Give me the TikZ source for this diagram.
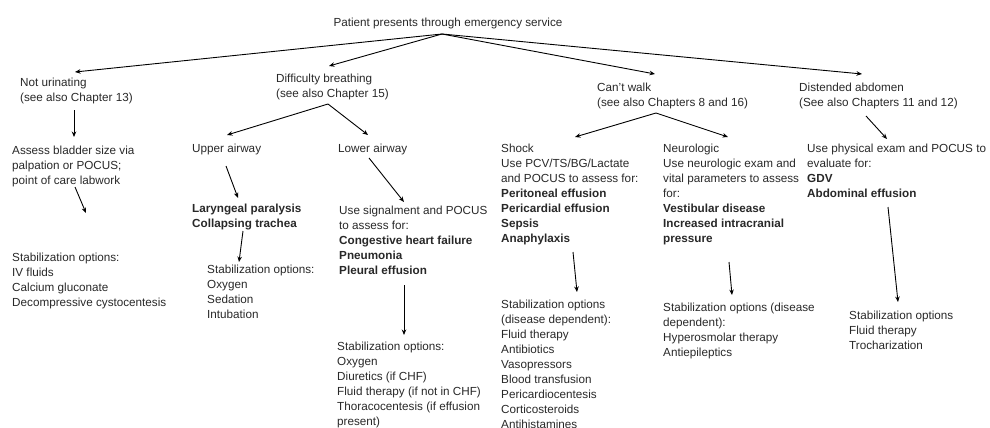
\documentclass[tikz,border=0pt]{standalone}
\usepackage{fontspec}
\setmainfont{Liberation Sans}
\usetikzlibrary{arrows.meta}
\definecolor{ink}{RGB}{40,40,40}
\begin{document}
\begin{tikzpicture}[x=1pt,y=-1pt,
  txt/.style={anchor=north west, inner sep=0pt, align=left, text=ink, font=\fontsize{11.7}{15}\selectfont},
  arr/.style={-{Stealth[length=5.5pt,width=4.5pt]}, line width=0.9pt, draw=black}]
\useasboundingbox (0,0) rectangle (990,428);

\node[txt, anchor=base] (root) at (448,27) {Patient presents through emergency service};

\node[txt] (nu) at (20,75.5) {\strut Not urinating\\(see also Chapter 13)};
\node[txt] (db) at (276,71.5) {\strut Difficulty breathing\\(see also Chapter 15)};
\node[txt] (cw) at (597,80.5) {\strut Can't walk\\(see also Chapters 8 and 16)};
\node[txt] (da) at (799,80.5) {\strut Distended abdomen\\(See also Chapters 11 and 12)};

\node[txt] (assess) at (12,143.5) {\strut Assess bladder size via\\palpation or POCUS;\\point of care labwork};
\node[txt] (upper) at (192,141.5) {\strut Upper airway};
\node[txt] (lower) at (338,141.5) {\strut Lower airway};
\node[txt] (shock) at (501,141.5) {\strut Shock\\Use PCV/TS/BG/Lactate\\and POCUS to assess for:\\\textbf{Peritoneal effusion}\\\textbf{Pericardial effusion}\\\textbf{Sepsis}\\\textbf{Anaphylaxis}};
\node[txt] (neuro) at (663,141.5) {\strut Neurologic\\Use neurologic exam and\\vital parameters to assess\\for:\\\textbf{Vestibular disease}\\\textbf{Increased intracranial}\\\textbf{pressure}};
\node[txt] (phys) at (807,141.5) {\strut Use physical exam and POCUS to\\evaluate for:\\\textbf{GDV}\\\textbf{Abdominal effusion}};

\node[txt] (laryn) at (192,201.5) {\strut\textbf{Laryngeal paralysis}\\\textbf{Collapsing trachea}};
\node[txt] (signal) at (339,203.5) {\strut Use signalment and POCUS\\to assess for:\\\textbf{Congestive heart failure}\\\textbf{Pneumonia}\\\textbf{Pleural effusion}};

\node[txt] (nustab) at (12,250.5) {\strut Stabilization options:\\IV fluids\\Calcium gluconate\\Decompressive cystocentesis};
\node[txt] (upstab) at (207,262.5) {\strut Stabilization options:\\Oxygen\\Sedation\\Intubation};
\node[txt] (lostab) at (337,339.5) {\strut Stabilization options:\\Oxygen\\Diuretics (if CHF)\\Fluid therapy (if not in CHF)\\Thoracocentesis (if effusion\\present)};
\node[txt] (shstab) at (501,297.5) {\strut Stabilization options\\(disease dependent):\\Fluid therapy\\Antibiotics\\Vasopressors\\Blood transfusion\\Pericardiocentesis\\Corticosteroids\\Antihistamines};
\node[txt] (nestab) at (663,300.5) {\strut Stabilization options (disease\\dependent):\\Hyperosmolar therapy\\Antiepileptics};
\node[txt] (dastab) at (849,308.5) {\strut Stabilization options\\Fluid therapy\\Trocharization};

% connector end points
\coordinate (root-o) at (442,34);
\coordinate (nu-i) at (75,72);
\coordinate (db-i) at (329,66);
\coordinate (cw-i) at (655,74);
\coordinate (da-i) at (862,74);
\coordinate (nu-o) at (74,110);
\coordinate (assess-i) at (74,137);
\coordinate (db-o) at (328,104);
\coordinate (upper-i) at (227,135);
\coordinate (lower-i) at (368,135);
\coordinate (cw-o) at (656,113);
\coordinate (shock-i) at (575,137);
\coordinate (neuro-i) at (728,137);
\coordinate (da-o) at (866,116);
\coordinate (phys-i) at (887,139);
\coordinate (assess-o) at (75,187);
\coordinate (nustab-i) at (86,213);
\coordinate (upper-o) at (226,166);
\coordinate (laryn-i) at (238,198);
\coordinate (lower-o) at (369,158);
\coordinate (signal-i) at (404,202);
\coordinate (laryn-o) at (243,231);
\coordinate (upstab-i) at (239,262);
\coordinate (signal-o) at (404,285);
\coordinate (lostab-i) at (404,335);
\coordinate (shock-o) at (573,252);
\coordinate (shstab-i) at (577,292);
\coordinate (neuro-o) at (729,262);
\coordinate (nestab-i) at (732,295);
\coordinate (phys-o) at (888,207);
\coordinate (dastab-i) at (898,302);

\draw[arr] (root-o) -- (nu-i);
\draw[arr] (root-o) -- (db-i);
\draw[arr] (root-o) -- (cw-i);
\draw[arr] (root-o) -- (da-i);
\draw[arr] (nu-o) -- (assess-i);
\draw[arr] (db-o) -- (upper-i);
\draw[arr] (db-o) -- (lower-i);
\draw[arr] (cw-o) -- (shock-i);
\draw[arr] (cw-o) -- (neuro-i);
\draw[arr] (da-o) -- (phys-i);
\draw[arr] (assess-o) -- (nustab-i);
\draw[arr] (upper-o) -- (laryn-i);
\draw[arr] (lower-o) -- (signal-i);
\draw[arr] (laryn-o) -- (upstab-i);
\draw[arr] (signal-o) -- (lostab-i);
\draw[arr] (shock-o) -- (shstab-i);
\draw[arr] (neuro-o) -- (nestab-i);
\draw[arr] (phys-o) -- (dastab-i);
\end{tikzpicture}
\end{document}
